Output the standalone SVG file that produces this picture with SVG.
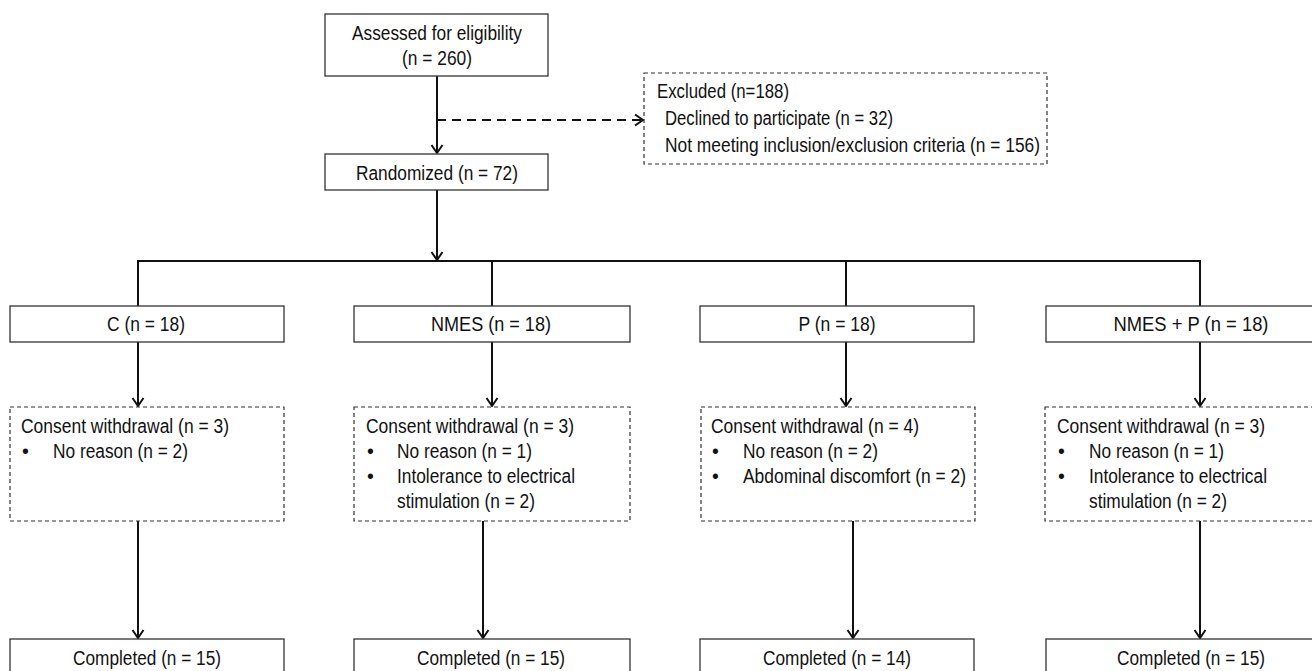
<svg xmlns="http://www.w3.org/2000/svg" width="1312" height="671" viewBox="0 0 1312 671">
<style>
text{font-family:"Liberation Sans",Arial,sans-serif;font-size:19.5px;fill:#111;}
.c{text-anchor:middle;}
.box{fill:#fff;stroke:#333;stroke-width:1.3;}
.dbox{fill:#fff;stroke:#333;stroke-width:1.2;stroke-dasharray:4 3;}
.ln{fill:none;stroke:#111;stroke-width:2;}
.dl{fill:none;stroke:#111;stroke-width:2;stroke-dasharray:9 6;}
</style>
<defs>
<marker id="ah" markerWidth="14" markerHeight="14" refX="10" refY="7" orient="auto" markerUnits="userSpaceOnUse">
<path d="M2,1.5 L10,7 L2,12.5" fill="none" stroke="#111" stroke-width="2"/>
</marker>
</defs>
<rect width="1312" height="671" fill="#fff"/>
<g id="connectors">
<line class="ln" x1="437" y1="76" x2="437" y2="153" marker-end="url(#ah)"/>
<line class="dl" x1="437" y1="120" x2="643" y2="120" marker-end="url(#ah)"/>
<line class="ln" x1="437" y1="190" x2="437" y2="260" marker-end="url(#ah)"/>
<line class="ln" x1="137" y1="261" x2="1201" y2="261"/>
<line class="ln" x1="138" y1="261" x2="138" y2="306"/>
<line class="ln" x1="492" y1="261" x2="492" y2="306"/>
<line class="ln" x1="846" y1="261" x2="846" y2="306"/>
<line class="ln" x1="1200" y1="261" x2="1200" y2="306"/>
<line class="ln" x1="138" y1="342" x2="138" y2="406" marker-end="url(#ah)"/>
<line class="ln" x1="492" y1="342" x2="492" y2="406" marker-end="url(#ah)"/>
<line class="ln" x1="846" y1="342" x2="846" y2="406" marker-end="url(#ah)"/>
<line class="ln" x1="1200" y1="342" x2="1200" y2="406" marker-end="url(#ah)"/>
<line class="ln" x1="138" y1="521" x2="138" y2="638" marker-end="url(#ah)"/>
<line class="ln" x1="483" y1="521" x2="483" y2="638" marker-end="url(#ah)"/>
<line class="ln" x1="853" y1="521" x2="853" y2="638" marker-end="url(#ah)"/>
<line class="ln" x1="1200" y1="521" x2="1200" y2="638" marker-end="url(#ah)"/>
</g>
<g id="assessed">
<rect class="box" x="325" y="14" width="223" height="62"/>
<text class="c" x="437" y="40" textLength="170" lengthAdjust="spacingAndGlyphs">Assessed for eligibility</text>
<text class="c" x="437" y="65" textLength="70" lengthAdjust="spacingAndGlyphs">(n = 260)</text>
</g>
<g id="excluded">
<rect class="dbox" x="644" y="73" width="403" height="91"/>
<text x="657" y="98" textLength="132" lengthAdjust="spacingAndGlyphs">Excluded (n=188)</text>
<text x="665" y="125" textLength="228" lengthAdjust="spacingAndGlyphs">Declined to participate (n = 32)</text>
<text x="665" y="152" textLength="375" lengthAdjust="spacingAndGlyphs">Not meeting inclusion/exclusion criteria (n = 156)</text>
</g>
<g id="randomized">
<rect class="box" x="325" y="154" width="223" height="36"/>
<text class="c" x="437" y="180" textLength="162" lengthAdjust="spacingAndGlyphs">Randomized (n = 72)</text>
</g>
<g id="group-c">
<rect class="box" x="10" y="306" width="274" height="36"/>
<text class="c" x="146" y="331" textLength="78" lengthAdjust="spacingAndGlyphs">C (n = 18)</text>
</g>
<g id="group-nmes">
<rect class="box" x="354" y="306" width="276" height="36"/>
<text class="c" x="491" y="331" textLength="120" lengthAdjust="spacingAndGlyphs">NMES (n = 18)</text>
</g>
<g id="group-p">
<rect class="box" x="700" y="306" width="274" height="36"/>
<text class="c" x="837" y="331" textLength="77" lengthAdjust="spacingAndGlyphs">P (n = 18)</text>
</g>
<g id="group-nmesp">
<rect class="box" x="1046" y="306" width="290" height="36"/>
<text class="c" x="1191" y="331" textLength="155" lengthAdjust="spacingAndGlyphs">NMES + P (n = 18)</text>
</g>
<g id="drop-c">
<rect class="dbox" x="10" y="407" width="274" height="114"/>
<text x="21" y="433" textLength="208" lengthAdjust="spacingAndGlyphs">Consent withdrawal (n = 3)</text>
<text x="22" y="458">•</text><text x="53" y="458" textLength="135" lengthAdjust="spacingAndGlyphs">No reason (n = 2)</text>
</g>
<g id="drop-nmes">
<rect class="dbox" x="354" y="407" width="276" height="114"/>
<text x="366" y="433" textLength="208" lengthAdjust="spacingAndGlyphs">Consent withdrawal (n = 3)</text>
<text x="367" y="458">•</text><text x="397" y="458" textLength="135" lengthAdjust="spacingAndGlyphs">No reason (n = 1)</text>
<text x="367" y="483">•</text><text x="397" y="483" textLength="178" lengthAdjust="spacingAndGlyphs">Intolerance to electrical</text>
<text x="397" y="508" textLength="138" lengthAdjust="spacingAndGlyphs">stimulation (n = 2)</text>
</g>
<g id="drop-p">
<rect class="dbox" x="701" y="407" width="274" height="114"/>
<text x="711" y="433" textLength="208" lengthAdjust="spacingAndGlyphs">Consent withdrawal (n = 4)</text>
<text x="712" y="458">•</text><text x="743" y="458" textLength="135" lengthAdjust="spacingAndGlyphs">No reason (n = 2)</text>
<text x="712" y="483">•</text><text x="743" y="483" textLength="223" lengthAdjust="spacingAndGlyphs">Abdominal discomfort (n = 2)</text>
</g>
<g id="drop-nmesp">
<rect class="dbox" x="1045" y="407" width="290" height="114"/>
<text x="1057" y="433" textLength="208" lengthAdjust="spacingAndGlyphs">Consent withdrawal (n = 3)</text>
<text x="1058" y="458">•</text><text x="1089" y="458" textLength="135" lengthAdjust="spacingAndGlyphs">No reason (n = 1)</text>
<text x="1058" y="483">•</text><text x="1089" y="483" textLength="178" lengthAdjust="spacingAndGlyphs">Intolerance to electrical</text>
<text x="1089" y="508" textLength="138" lengthAdjust="spacingAndGlyphs">stimulation (n = 2)</text>
</g>
<g id="completed-c">
<rect class="box" x="10" y="639" width="274" height="40"/>
<text class="c" x="147" y="665" textLength="148" lengthAdjust="spacingAndGlyphs">Completed (n = 15)</text>
</g>
<g id="completed-nmes">
<rect class="box" x="354" y="639" width="276" height="40"/>
<text class="c" x="491" y="665" textLength="148" lengthAdjust="spacingAndGlyphs">Completed (n = 15)</text>
</g>
<g id="completed-p">
<rect class="box" x="700" y="639" width="274" height="40"/>
<text class="c" x="837" y="665" textLength="148" lengthAdjust="spacingAndGlyphs">Completed (n = 14)</text>
</g>
<g id="completed-nmesp">
<rect class="box" x="1046" y="639" width="290" height="40"/>
<text class="c" x="1191" y="665" textLength="148" lengthAdjust="spacingAndGlyphs">Completed (n = 15)</text>
</g>
</svg>
